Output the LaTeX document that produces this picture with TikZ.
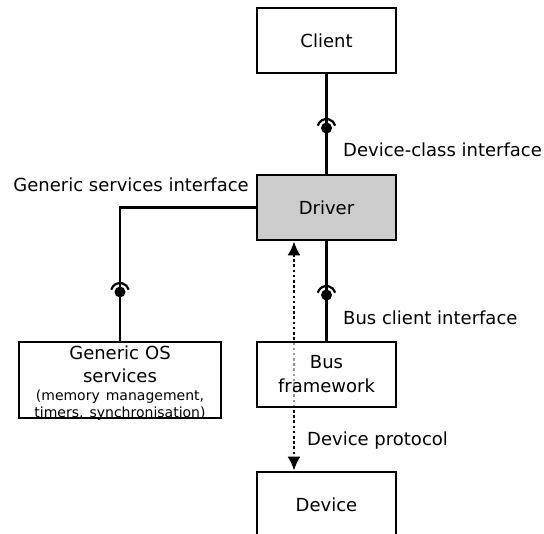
\documentclass[tikz,border=0pt]{standalone}
\usepackage{fontspec}
\setmainfont{DejaVu Sans}
\usetikzlibrary{arrows.meta,positioning}

\begin{document}
\begin{tikzpicture}[
  x=1pt,y=-1pt,
  >={Latex[length=14pt,width=13pt]},
  box/.style={draw=black,line width=2.6pt,fill=white,align=center,
    minimum width=139pt,minimum height=65pt,inner sep=0pt,
    font=\fontsize{18}{24}\selectfont},
  wire/.style={line width=2.6pt},
  protocol/.style={line width=2.6pt,dash pattern=on 2.6pt off 2.6pt,<->},
  iface/.style={inner sep=0pt,font=\fontsize{18}{22}\selectfont},
  socket/.pic={
    \fill (0,0) circle (5.5);
    \draw[line width=2.2pt] (195:9) arc[start angle=195,end angle=345,radius=9];
  }
]
\useasboundingbox (0,0) rectangle (544,534);
\clip (0,0) rectangle (544,534);

% protocol arrow runs underneath the bus box
\node[box] (client) at (326.5,40.5) {Client};
\node[box,fill=black!20] (driver) at (326.5,207.5) {Driver};
\node[box] (device) at (326.5,504.5) {Device};
\draw[protocol] ([xshift=-32.5pt]driver.south) -- ([xshift=-32.5pt]device.north);
\node[box,fill opacity=0.6,text opacity=1] (bus) at (326.5,374.5) {Bus\\framework};
\node[box,minimum width=202pt,minimum height=76pt] (osserv) at (120,380) {};
\node[align=center,text width=200pt,inner sep=0pt,font=\fontsize{18}{23}\selectfont]
 (ostext) at (120,383)
 {Generic OS\\services\par\vspace{1pt}
  \fontsize{14}{17}\selectfont(memory management,\\timers, synchronisation)\par};

% interfaces
\draw[wire] (client) -- (driver);
\draw[wire] (bus) -- (driver);
\draw[wire] (driver.west) -| (osserv.north);
\pic at (326.5,128) {socket};
\pic at (326.5,295) {socket};
\pic at (120,292) {socket};

\node[iface,anchor=west] (devclass) at (343,150) {Device-class interface};
\node[iface,anchor=east] (generic) at (249,185) {Generic services interface};
\node[iface,anchor=west] (busclient) at (343,318) {Bus client interface};
\node[iface,anchor=west] (devproto) at (307,441) {Device protocol};
\end{tikzpicture}
\end{document}
